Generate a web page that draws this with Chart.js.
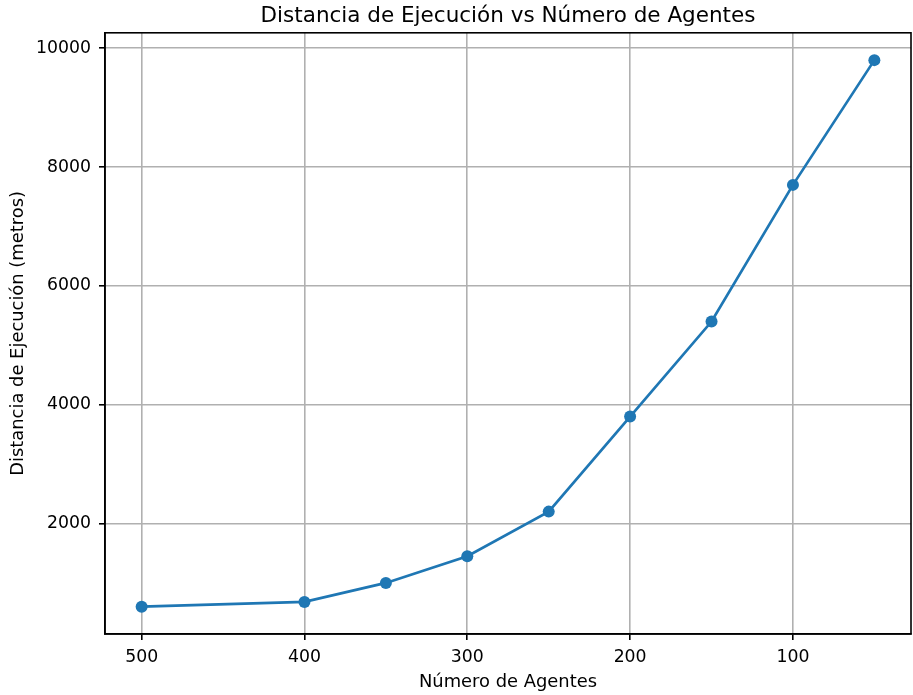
<!DOCTYPE html>
<html>
<head>
<meta charset="utf-8">
<script src="https://cdn.jsdelivr.net/npm/chart.js@4"></script>
<style>
html,body{margin:0;padding:0;background:#fff;}
#c{display:block;}
</style>
</head>
<body>
<canvas id="c" width="913" height="695"></canvas>
<script>
const agents = [500, 400, 350, 300, 250, 200, 150, 100, 50];
const distance = [600, 680, 1000, 1450, 2200, 3800, 5400, 7700, 9800];
const xTicks = [500, 400, 300, 200, 100];
const yTicks = [2000, 4000, 6000, 8000, 10000];

const titleText = 'Distancia de Ejecución vs Número de Agentes';
const xLabel = 'Número de Agentes';
const yLabel = 'Distancia de Ejecución (metros)';

function padRange(arr){
  const mn = Math.min(...arr), mx = Math.max(...arr);
  const p = (mx - mn) * 0.05;
  return [mn - p, mx + p];
}
const [xMin, xMax] = padRange(agents);
const [yMin, yMax] = padRange(distance);

const FONT = "'DejaVu Sans', sans-serif";
const frame = {
  id: 'frame',
  afterLayout(chart){
    const tb = chart.titleBlock, a = chart.chartArea;
    if (tb && a) {
      tb.left = a.left;
      tb.right = a.right;
      tb.width = a.right - a.left;
    }
  },
  afterDatasetsDraw(chart){
    const a = chart.chartArea, ctx = chart.ctx;
    ctx.save();
    ctx.strokeStyle = '#000';
    ctx.lineWidth = 1.6;
    ctx.strokeRect(a.left, a.top, a.right - a.left, a.bottom - a.top);
    ctx.restore();
  }
};

new Chart(document.getElementById('c'), {
  type: 'line',
  data: {
    datasets: [{
      data: agents.map((a, i) => ({x: a, y: distance[i]})),
      borderColor: '#1f77b4',
      backgroundColor: '#1f77b4',
      borderWidth: 2.7,
      pointRadius: 6,
      pointHoverRadius: 6,
      pointBorderWidth: 0,
      pointBackgroundColor: '#1f77b4',
      tension: 0,
      fill: false,
      clip: false
    }]
  },
  options: {
    responsive: false,
    animation: false,
    devicePixelRatio: 1,
    layout: {autoPadding: false, padding: {left: 0, right: 2, top: 0, bottom: 0}},
    plugins: {
      legend: {display: false},
      tooltip: {enabled: false},
      title: {
        display: true,
        text: titleText,
        color: '#000',
        font: {family: FONT, size: 21.5, weight: 'normal'},
        padding: {top: 4, bottom: 3}
      }
    },
    scales: {
      x: {
        type: 'linear',
        reverse: true,
        min: xMin,
        max: xMax,
        afterBuildTicks(s){ s.ticks = xTicks.map(v => ({value: v})); },
        afterFit(s){ s.height = 61; },
        ticks: {color: '#000', font: {family: FONT, size: 17.3}, padding: 7, maxRotation: 0, callback: v => String(v)},
        grid: {color: '#b0b0b0', lineWidth: 1.6, drawTicks: true, tickLength: 6, tickColor: '#000', tickWidth: 1.6},
        border: {color: '#000', width: 1.6},
        title: {display: true, text: xLabel, color: '#000', font: {family: FONT, size: 17.9}, padding: {top: 0, bottom: 2}}
      },
      y: {
        type: 'linear',
        min: yMin,
        max: yMax,
        afterBuildTicks(s){ s.ticks = yTicks.map(v => ({value: v})); },
        afterFit(s){ s.width = 105; },
        ticks: {color: '#000', font: {family: FONT, size: 17.3}, padding: 8, callback: v => String(v)},
        grid: {color: '#b0b0b0', lineWidth: 1.6, drawTicks: true, tickLength: 6, tickColor: '#000', tickWidth: 1.6},
        border: {color: '#000', width: 1.6},
        title: {display: true, text: yLabel, color: '#000', font: {family: FONT, size: 17.9}, padding: {top: 8, bottom: 0}}
      }
    }
  },
  plugins: [frame]
});
</script>
</body>
</html>
